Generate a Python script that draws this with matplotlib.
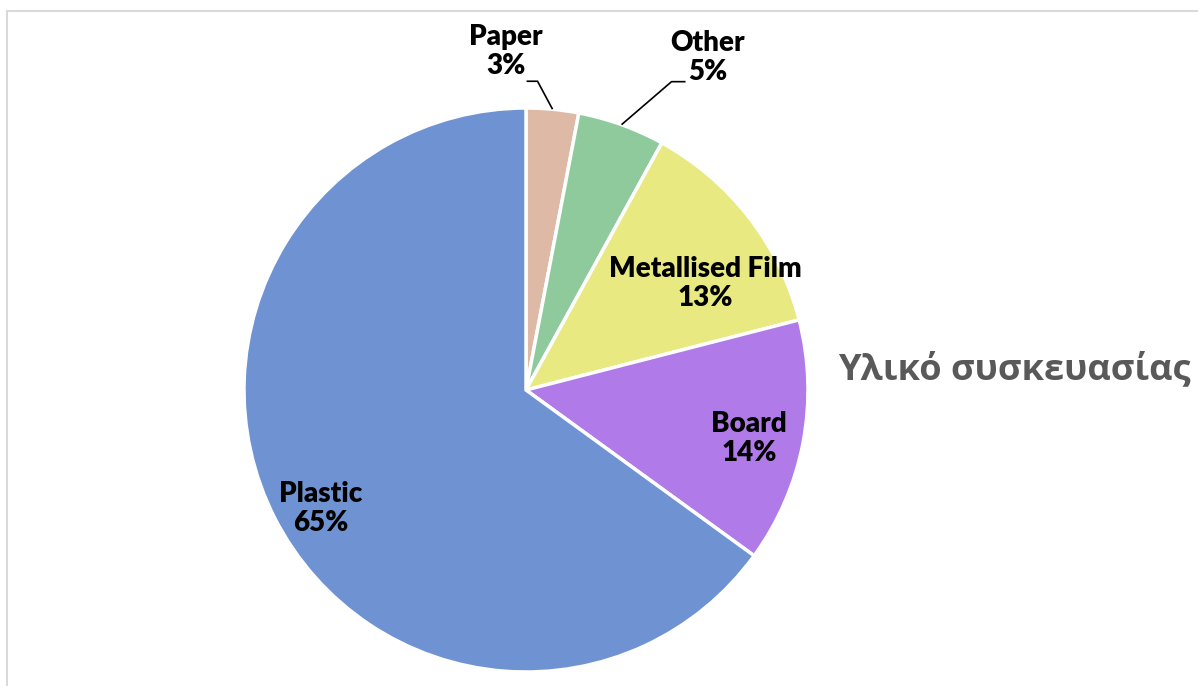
import numpy as np
import matplotlib.pyplot as plt
from matplotlib.patches import Rectangle

# data, clockwise from 12 o'clock
materials = ["Paper", "Other", "Metallised Film", "Board", "Plastic"]
shares = [3, 5, 13, 14, 65]
colors = ["#DDB9A6", "#8FCA9D", "#E8E981", "#B07AE8", "#6F93D2"]
title = "Υλικό συσκευασίας"

W, H = 1198, 686
fig = plt.figure(figsize=(W / 100, H / 100), dpi=100, facecolor="white")
ax = fig.add_axes([0, 0, 1, 1])
ax.set_xlim(0, W)
ax.set_ylim(0, H)
ax.set_aspect("equal")
ax.axis("off")

# light frame around chart area (right/bottom fall off the image)
ax.add_patch(Rectangle((7, -20), W + 40, H - 11 + 20, fill=False,
                       edgecolor="#D9D9D9", linewidth=1.5))

cx, cy, R = 526, H - 390, 282
wedges, _ = ax.pie(shares, colors=colors, startangle=90, counterclock=False,
                   center=(cx, cy), radius=R, frame=True,
                   wedgeprops=dict(edgecolor="white", linewidth=2.5))
ax.set_xlim(0, W)
ax.set_ylim(0, H)
ax.axis("off")

font = dict(family=["Lato", "DejaVu Sans"], fontweight="heavy", fontsize=20,
            color="black", ha="center", va="center", linespacing=1.15)

# inside labels: (radius fraction, angle shift in degrees)
inside = {"Metallised Film": (0.74, -7), "Board": (0.81, -1.5), "Plastic": (0.84, 3)}
# outside labels: text offset from edge point (px), elbow offset
outside = {"Paper": ((-47, 58), (-15, 28), (-26, 28)),
           "Other": ((86, 67), (50, 43), (64, 43))}

for w, name, val in zip(wedges, materials, shares):
    mid = np.deg2rad((w.theta1 + w.theta2) / 2)
    label = f"{name}\n{val}%"
    if name in inside:
        frac, shift = inside[name]
        a = mid + np.deg2rad(shift)
        ax.text(cx + frac * R * np.cos(a), cy + frac * R * np.sin(a), label, **font)
    else:
        ex, ey = cx + R * np.cos(mid), cy + R * np.sin(mid)
        (tx, ty), (bx, by), (hx, hy) = outside[name]
        ax.plot([ex, ex + bx, ex + hx], [ey, ey + by, ey + hy],
                color="black", linewidth=1.2, solid_capstyle="butt")
        ax.text(ex + tx, ey + ty, label, **font)

ax.text(1014, H - 370, title, family=["Open Sans", "DejaVu Sans"],
        fontweight="bold", fontsize=26, color="#595959", ha="center", va="center")

fig.savefig("out.png", dpi=100, facecolor="white")
